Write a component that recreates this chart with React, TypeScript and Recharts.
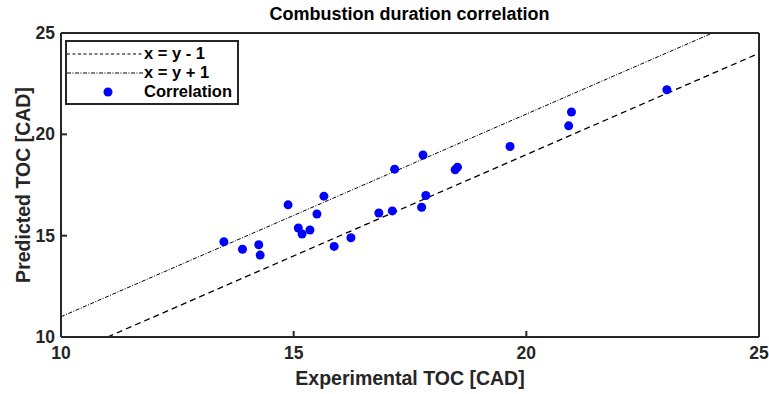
import React from 'react'
import { ComposedChart, Scatter, Line, XAxis, YAxis } from 'recharts'

// Experimental vs predicted TOC (CAD)
const expToc = [13.5, 13.9, 14.25, 14.28, 14.88, 15.1, 15.18, 15.35, 15.5, 15.65, 15.87, 16.23, 16.83, 17.12, 17.17, 17.75, 17.78, 17.84, 18.47, 18.52, 19.65, 20.91, 20.97, 23.02]
const predToc = [14.7, 14.33, 14.55, 14.04, 16.52, 15.38, 15.08, 15.28, 16.07, 16.95, 14.47, 14.9, 16.12, 16.22, 18.28, 16.4, 18.98, 16.98, 18.25, 18.38, 19.4, 20.42, 21.1, 22.2]

// reference lines (end points)
const lowerX = [11, 25]
const lowerY = [10, 24]
const upperX = [10, 24]
const upperY = [11, 25]

const axisTicks = [10, 15, 20, 25]

const points = expToc.map((x, i) => ({ x, y: predToc[i] }))
const lowerLine = lowerX.map((x, i) => ({ x, y: lowerY[i] }))
const upperLine = upperX.map((x, i) => ({ x, y: upperY[i] }))

const FONT = '"Liberation Sans", Arial, sans-serif'
const AXIS = '#262626'
const DASH = '6 4'
const DASHDOT = '4 1.5 1 1.5'
const TICK_LEN = 6
const LABEL_GAP = 6

const axisLine = { stroke: AXIS, strokeWidth: 2 }
const textStyle = { fontSize: 17.5, fontWeight: 700, fill: '#262626', fontFamily: FONT }

// ticks: label outside, short mark pointing into the plot (MATLAB style)
const BottomTick = ({ x, y, payload }: any) => (
  <g>
    <line x1={x} x2={x} y1={y - LABEL_GAP} y2={y - LABEL_GAP - TICK_LEN} stroke={AXIS} strokeWidth={2} />
    <text x={x} y={y + 4} dy="0.71em" textAnchor="middle" style={textStyle}>{payload.value}</text>
  </g>
)
const LeftTick = ({ x, y, payload }: any) => (
  <g>
    <line x1={x + LABEL_GAP} x2={x + LABEL_GAP + TICK_LEN} y1={y} y2={y} stroke={AXIS} strokeWidth={2} />
    <text x={x} y={y} dy="0.35em" textAnchor="end" style={textStyle}>{payload.value}</text>
  </g>
)
const TopTick = ({ x, y }: any) => (
  <line x1={x} x2={x} y1={y} y2={y + TICK_LEN} stroke={AXIS} strokeWidth={2} />
)
const RightTick = ({ x, y }: any) => (
  <line x1={x} x2={x - TICK_LEN} y1={y} y2={y} stroke={AXIS} strokeWidth={2} />
)

function LegendBox() {
  const row = { display: 'flex', alignItems: 'center', height: 19 }
  const label = { fontSize: 16.5, fontWeight: 700, fontFamily: FONT, color: '#000', lineHeight: '19px' }
  return (
    <div
      style={{
        position: 'absolute',
        left: 65,
        top: 40,
        width: 170,
        height: 59,
        border: '2px solid #262626',
        background: '#fff',
        padding: '2px 0 0 0',
      }}
    >
      <div style={row}>
        <svg width={77} height={10}>
          <line x1={0} y1={5} x2={77} y2={5} stroke="#000" strokeWidth={1.2} strokeDasharray="3 2.5" />
        </svg>
        <span style={label}>x = y - 1</span>
      </div>
      <div style={row}>
        <svg width={77} height={10}>
          <line x1={0} y1={5} x2={77} y2={5} stroke="#000" strokeWidth={1} strokeDasharray={DASHDOT} />
        </svg>
        <span style={label}>x = y + 1</span>
      </div>
      <div style={row}>
        <svg width={77} height={10}>
          <circle cx={41} cy={5} r={4.5} fill="#0000ff" />
        </svg>
        <span style={label}>Correlation</span>
      </div>
    </div>
  )
}

export default function App() {
  return (
    <div style={{ position: 'absolute', left: 0, top: 0, width: 769, height: 394, background: '#fff' }}>
      <ComposedChart
        width={769}
        height={394}
        margin={{ top: 33, right: 10, bottom: 17, left: 21 }}
      >
        <XAxis
          dataKey="x"
          type="number"
          domain={[10, 25]}
          ticks={axisTicks}
          allowDataOverflow
          axisLine={axisLine}
          tickLine={false}
          tickSize={0}
          tickMargin={LABEL_GAP}
          tick={<BottomTick />}
          height={40}
          label={{
            value: 'Experimental TOC [CAD]',
            position: 'insideBottom',
            offset: -8,
            style: { fontSize: 19.5, fontWeight: 700, fill: '#262626', fontFamily: FONT },
          }}
        />
        <XAxis
          xAxisId="top"
          dataKey="x"
          type="number"
          orientation="top"
          domain={[10, 25]}
          ticks={axisTicks}
          mirror
          tickLine={false}
          tickSize={0}
          tickMargin={0}
          tick={<TopTick />}
          axisLine={axisLine}
          height={1}
        />
        <YAxis
          dataKey="y"
          type="number"
          domain={[10, 25]}
          ticks={axisTicks}
          allowDataOverflow
          axisLine={axisLine}
          tickLine={false}
          tickSize={0}
          tickMargin={LABEL_GAP}
          tick={<LeftTick />}
          width={40}
          label={{
            value: 'Predicted TOC [CAD]',
            angle: -90,
            position: 'insideLeft',
            offset: 2,
            style: { fontSize: 19.5, fontWeight: 700, fill: '#262626', fontFamily: FONT, textAnchor: 'middle' },
          }}
        />
        <YAxis
          yAxisId="right"
          dataKey="y"
          type="number"
          orientation="right"
          domain={[10, 25]}
          ticks={axisTicks}
          mirror
          tickLine={false}
          tickSize={0}
          tickMargin={0}
          tick={<RightTick />}
          axisLine={axisLine}
          width={1}
        />
        <Line
          data={lowerLine}
          dataKey="y"
          stroke="#000"
          strokeWidth={1.3}
          strokeDasharray={DASH}
          dot={false}
          activeDot={false}
          isAnimationActive={false}
        />
        <Line
          data={upperLine}
          dataKey="y"
          stroke="#000"
          strokeWidth={1}
          strokeDasharray={DASHDOT}
          dot={false}
          activeDot={false}
          isAnimationActive={false}
        />
        <Scatter
          data={points}
          dataKey="y"
          fill="#0000ff"
          shape={(p: any) => <circle cx={p.cx} cy={p.cy} r={4.5} fill="#0000ff" />}
          isAnimationActive={false}
        />
      </ComposedChart>
      <div
        style={{
          position: 'absolute',
          left: 61,
          width: 697,
          top: 4,
          textAlign: 'center',
          fontSize: 18,
          fontWeight: 700,
          fontFamily: FONT,
          color: '#000',
        }}
      >
        Combustion duration correlation
      </div>
      <LegendBox />
    </div>
  )
}
